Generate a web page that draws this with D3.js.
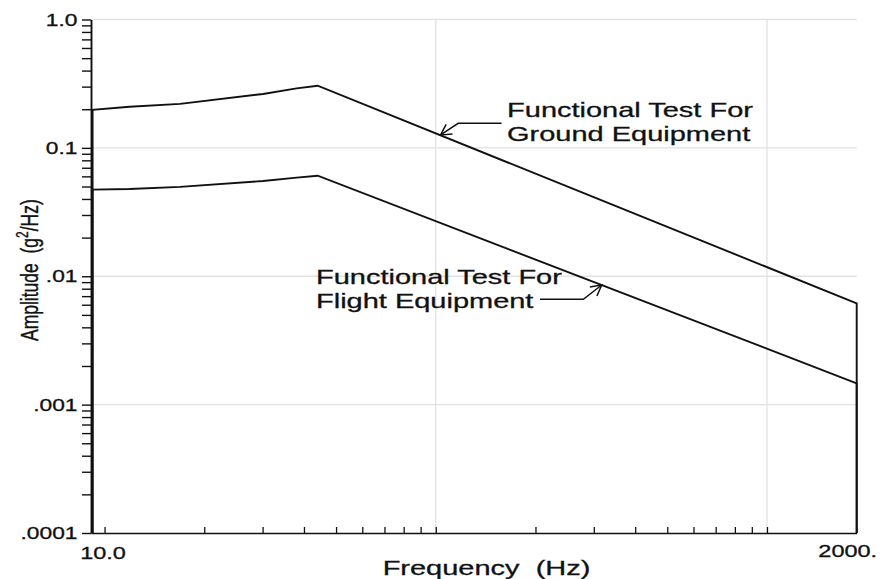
<!DOCTYPE html>
<html><head><meta charset="utf-8">
<script src="https://cdn.jsdelivr.net/npm/d3@7"></script>
<style>html,body{margin:0;padding:0;background:#fff;} svg{display:block;} text{font-family:"Liberation Sans",Arial,sans-serif;fill:#111;stroke:#111;stroke-width:0.3px;}</style>
</head><body><svg id="chart" width="881" height="579"></svg>
<script>
// ---- data ----
const freqHz    = [9.2, 9.2, 11.9, 16.9, 30.1, 38, 44, 1866, 1866];
const groundPSD = [0.0001, 0.198, 0.209, 0.22, 0.263, 0.291, 0.305, 0.00615, 0.0001];
const flightPSD = [0.0001, 0.0473, 0.0478, 0.0497, 0.0552, 0.0586, 0.0607, 0.001466, 0.0001];
const xDomain = [9.1, 1866];
const yDomain = [0.0001, 1];
const yTickValues = [1, 0.1, 0.01, 0.001, 0.0001];
const yTickLabels = ["1.0", "0.1", ".01", ".001", ".0001"];
const xLabelText = ["10.0", "2000."];
const xGridValues = [100, 1000];
const yGridValues = [1, 0.1, 0.01, 0.001];
const groundNote = ["Functional Test For", "Ground Equipment"];
const flightNote = ["Functional Test For", "Flight Equipment"];
const groundTip = [103.4, 0.126];
const flightTip = [317, 0.00855];

// ---- layout ----
const SX = 1.38; // horizontal stretch of the original raster text
const svg = d3.select("#chart");
svg.append("rect").attr("width", 881).attr("height", 579).attr("fill", "#fff");
const x = d3.scaleLog().domain(xDomain).range([91, 856.7]);
const y = d3.scaleLog().domain(yDomain).range([533, 19.5]);

function sText(parent, px, py, anchor, size, str) {
  const g = parent.append("g").attr("transform", `translate(${px},${py}) scale(${SX},1)`);
  return g.append("text").attr("text-anchor", anchor).style("font-size", size + "px").text(str);
}

// grid
svg.append("g").selectAll("line").data(yGridValues).join("line")
  .attr("x1", x(xDomain[0])).attr("x2", x(xDomain[1]))
  .attr("y1", d => y(d)).attr("y2", d => y(d))
  .attr("stroke", "#e2e2e2").attr("stroke-width", 1.3);
svg.append("g").selectAll("line").data(xGridValues).join("line")
  .attr("x1", d => x(d)).attr("x2", d => x(d))
  .attr("y1", y(yDomain[0])).attr("y2", y(yDomain[1]))
  .attr("stroke", "#e2e2e2").attr("stroke-width", 1.3);

// minor tick sets
const yMinor = [];
[0.0001, 0.001, 0.01, 0.1].forEach(d => { for (let k = 1; k <= 9; k++) yMinor.push(k * d); });
yMinor.push(1);
const xMinor = [];
[1, 10, 100, 1000].forEach(d => { for (let k = 1; k <= 9; k++) { const v = k * d; if (v >= xDomain[0] && v <= xDomain[1]) xMinor.push(v); } });

// axes
const yAxis = svg.append("g").attr("transform", `translate(${x(xDomain[0])},0)`)
  .call(d3.axisLeft(y).tickValues(yMinor).tickSize(9).tickSizeOuter(0).tickFormat(""));
yAxis.select(".domain").attr("stroke", "#111").attr("stroke-width", 1.9);
yAxis.selectAll(".tick line").attr("stroke", "#111").attr("stroke-width", 1.4);

const xAxis = svg.append("g").attr("transform", `translate(0,${y(yDomain[0])})`)
  .call(d3.axisBottom(x).tickValues(xMinor).tickSize(-6).tickSizeOuter(0).tickFormat(""));
xAxis.select(".domain").attr("stroke", "#111").attr("stroke-width", 1.6);
xAxis.selectAll(".tick line").attr("stroke", "#111").attr("stroke-width", 1.3);

// tick labels
yTickValues.forEach((v, i) => sText(svg, 77.5, y(v) + 6, "end", 16.5, yTickLabels[i]));
sText(svg, x(10) - 1.5, 559, "middle", 17, xLabelText[0]);
sText(svg, x(xDomain[1]) - 9, 557, "middle", 17, xLabelText[1]);

// axis titles
sText(svg, 486.5, 575, "middle", 21, "Frequency\u00a0\u00a0(Hz)");
const yt = svg.append("g").attr("transform", `translate(37.5,341) scale(${SX},1) rotate(-90)`)
  .append("text").attr("text-anchor", "start").style("font-size", "17.5px");
yt.append("tspan").text("Amplitude\u00a0\u00a0(g");
yt.append("tspan").attr("dy", -7).style("font-size", "12px").text("2");
yt.append("tspan").attr("dy", 7).text("/Hz)");

// curves
const line = d3.line().x((d, i) => x(freqHz[i])).y(d => y(d));
[groundPSD, flightPSD].forEach(s => {
  svg.append("path").attr("d", line(s)).attr("fill", "none")
    .attr("stroke", "#111").attr("stroke-width", 1.9).attr("stroke-linejoin", "miter");
});

// annotations with arrows
function arrowHead(tx, ty, bx, by) {
  const a = Math.atan2(by - ty, bx - tx), L = 12, w = 0.5;
  return `M${tx + L * Math.cos(a - w)},${ty + L * Math.sin(a - w)} L${tx},${ty} L${tx + L * Math.cos(a + w)},${ty + L * Math.sin(a + w)}`;
}
const ann = svg.append("g").attr("fill", "none").attr("stroke", "#111").attr("stroke-width", 1.5);
{
  const tx = x(groundTip[0]), ty = y(groundTip[1]);
  ann.append("path").attr("d", `M${tx + 61},${ty - 11.7} L${tx + 17.6},${ty - 11.7} L${tx},${ty}`);
  ann.append("path").attr("d", arrowHead(tx, ty, tx + 17.6, ty - 11.7));
  sText(svg, tx + 66.5, ty - 18, "start", 21, groundNote[0]);
  sText(svg, tx + 66.5, ty + 6, "start", 21, groundNote[1]);
}
{
  const tx = x(flightTip[0]), ty = y(flightTip[1]);
  ann.append("path").attr("d", `M${tx - 61.7},${ty + 14.3} L${tx - 18.4},${ty + 14.3} L${tx},${ty}`);
  ann.append("path").attr("d", arrowHead(tx, ty, tx - 18.4, ty + 14.3));
  sText(svg, tx - 285.7, ty - 0.7, "start", 21, flightNote[0]);
  sText(svg, tx - 285.7, ty + 23.3, "start", 21, flightNote[1]);
}
</script></body></html>
